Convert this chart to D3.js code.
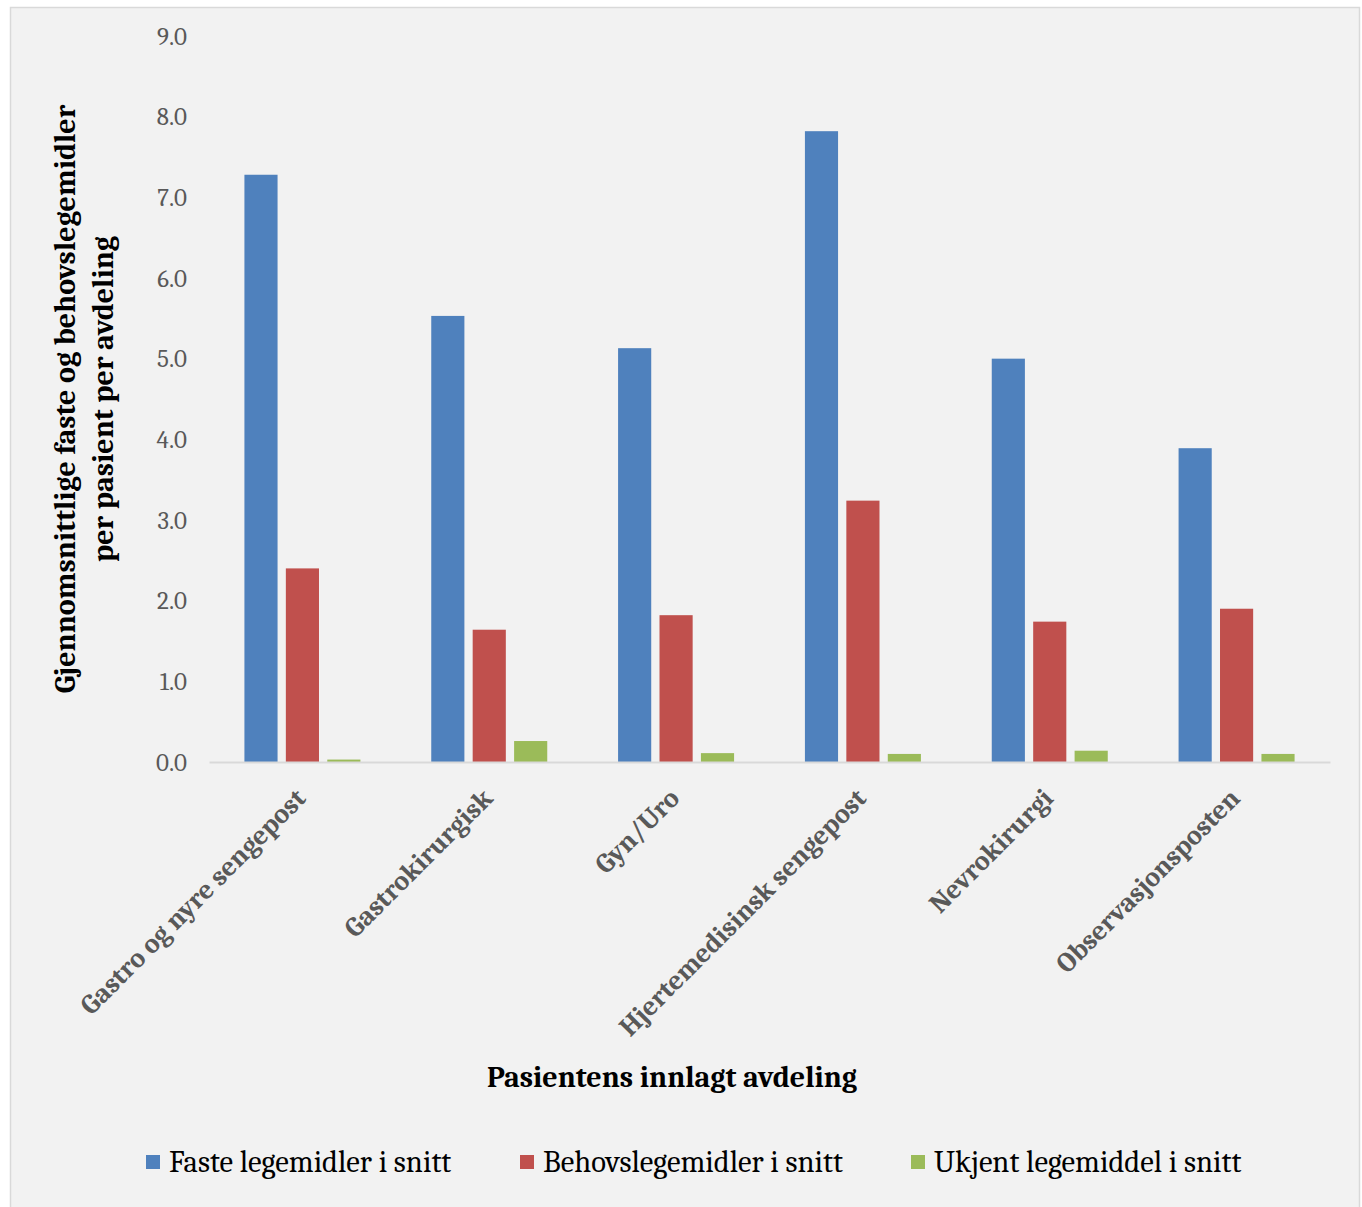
<!DOCTYPE html>
<html>
<head>
<meta charset="utf-8">
<script src="https://cdn.jsdelivr.net/npm/d3@7"></script>
<style>
  html, body { margin: 0; padding: 0; background: #ffffff; }
  svg { display: block; }
</style>
</head>
<body>
<svg id="chart" width="1362" height="1207"></svg>
<script>
// Departments (x categories)
const categories = [
  "Gastro og nyre sengepost",
  "Gastrokirurgisk",
  "Gyn/Uro",
  "Hjertemedisinsk sengepost",
  "Nevrokirurgi",
  "Observasjonsposten"
];
// Series names
const seriesNames = [
  "Faste legemidler i snitt",
  "Behovslegemidler i snitt",
  "Ukjent legemiddel i snitt"
];
// Average number per patient, per department
const fasteValues   = [7.28, 5.53, 5.13, 7.82, 5.00, 3.89];
const behovsValues  = [2.40, 1.64, 1.82, 3.24, 1.74, 1.90];
const ukjentValues  = [0.03, 0.26, 0.11, 0.10, 0.14, 0.10];
// Y tick values
const yTicks = [0, 1, 2, 3, 4, 5, 6, 7, 8, 9];

const seriesValues = [fasteValues, behovsValues, ukjentValues];
const colors = ["#4f81bd", "#c0504d", "#9bbb59"];

const FONT = "Cambria, 'DejaVu Serif', 'Liberation Serif', serif";

const svg = d3.select("#chart");

// chart area frame
svg.append("rect")
  .attr("x", 10.5).attr("y", 7.5)
  .attr("width", 1349).attr("height", 1210)
  .attr("fill", "#f2f2f2")
  .attr("stroke", "#d9d9d9").attr("stroke-width", 1.5);

const plot = { left: 209, right: 1330, top: 36, bottom: 762 };

const x0 = d3.scaleBand()
  .domain(categories)
  .range([plot.left, plot.right])
  .paddingInner(0).paddingOuter(0);

const groupHalf = 58;
const x1 = d3.scaleBand()
  .domain(d3.range(seriesNames.length))
  .range([-groupHalf, groupHalf])
  .paddingInner(0.2).paddingOuter(0);

const y = d3.scaleLinear().domain([0, 9]).range([plot.bottom, plot.top]);

// Y axis labels (no line, no gridlines)
const yAxis = d3.axisLeft(y)
  .tickValues(yTicks)
  .tickFormat(d3.format(".1f"))
  .tickSize(0)
  .tickPadding(0);
const yg = svg.append("g")
  .attr("transform", `translate(${plot.left - 22},0)`)
  .call(yAxis);
yg.select(".domain").remove();
yg.selectAll("text")
  .attr("font-family", FONT)
  .attr("font-size", 25)
  .attr("fill", "#595959");

// Bars
categories.forEach((cat, ci) => {
  const cx = x0(cat) + x0.bandwidth() / 2;
  seriesValues.forEach((vals, si) => {
    svg.append("rect")
      .attr("x", cx + x1(si))
      .attr("y", y(vals[ci]))
      .attr("width", x1.bandwidth())
      .attr("height", y(0) - y(vals[ci]))
      .attr("fill", colors[si]);
  });
});

// X axis baseline and rotated category labels
const xAxis = d3.axisBottom(x0).tickSize(0).tickPadding(0);
const xg = svg.append("g")
  .attr("transform", `translate(0,${plot.bottom})`)
  .call(xAxis);
xg.select(".domain")
  .attr("stroke", "#d9d9d9")
  .attr("stroke-width", 2);
xg.selectAll(".tick text")
  .attr("font-family", FONT)
  .attr("font-size", 27.5)
  .attr("font-weight", "bold")
  .attr("fill", "#595959")
  .attr("text-anchor", "end")
  .attr("dy", 0)
  .attr("transform", "translate(5,38) rotate(-45)");

// Y axis title (two lines)
const yTitle = svg.append("text")
  .attr("transform", "translate(75,399) rotate(-90)")
  .attr("text-anchor", "middle")
  .attr("font-family", FONT)
  .attr("font-size", 30)
  .attr("font-weight", "bold")
  .attr("fill", "#000");
yTitle.append("tspan").attr("x", 0).attr("y", 0)
  .text("Gjennomsnittlige faste og behovslegemidler");
yTitle.append("tspan").attr("x", 0).attr("y", 38)
  .text("per pasient per avdeling");

// X axis title
svg.append("text")
  .attr("x", 672).attr("y", 1087)
  .attr("text-anchor", "middle")
  .attr("font-family", FONT)
  .attr("font-size", 30)
  .attr("font-weight", "bold")
  .attr("fill", "#000")
  .text("Pasientens innlagt avdeling");

// Legend
const legendX = [146, 520, 911];
seriesNames.forEach((name, i) => {
  const g = svg.append("g").attr("transform", `translate(${legendX[i]},1155)`);
  g.append("rect").attr("width", 14).attr("height", 14).attr("fill", colors[i]);
  g.append("text")
    .attr("x", 23).attr("y", 17)
    .attr("font-family", FONT)
    .attr("font-size", 30.6)
    .attr("fill", "#000")
    .text(name);
});
</script>
</body>
</html>
